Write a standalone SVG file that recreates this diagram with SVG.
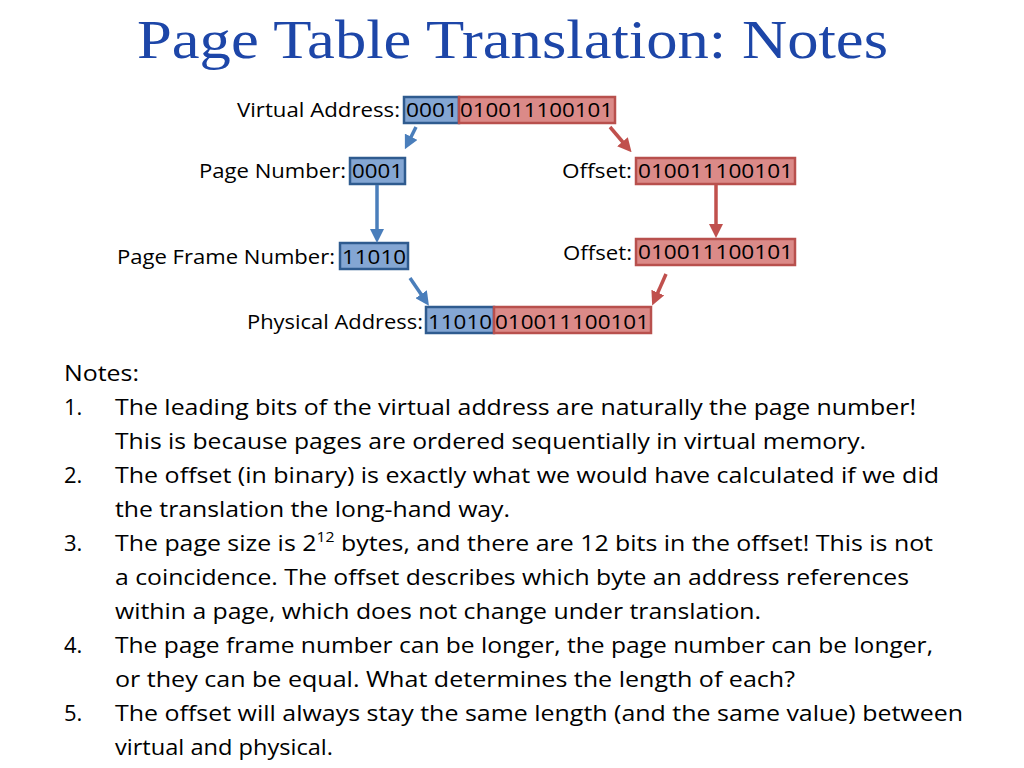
<svg xmlns="http://www.w3.org/2000/svg" width="1024" height="768" viewBox="0 0 1024 768">
<style>
.title{font-family:"Liberation Serif","DejaVu Serif",serif;font-size:54px;fill:#1d46a8}
.lbl{font-family:"Open Sans","Noto Sans",sans-serif;font-size:20px;fill:#000}
.note{font-family:"Open Sans","Noto Sans",sans-serif;font-size:22px;fill:#000}
.bb{fill:#84a6d3;stroke:#2f5b8f;stroke-width:2.5}
.rb{fill:#db8a88;stroke:#b8504d;stroke-width:2.5}
.ba{stroke:#4a7ebb;stroke-width:3.5;fill:none}
.ra{stroke:#c0504d;stroke-width:3.5;fill:none}
</style>
<defs>
<marker id="ahb" markerWidth="4" markerHeight="4" refX="2" refY="2" orient="auto" markerUnits="strokeWidth"><path d="M0,0 L4,2 L0,4 z" fill="#4a7ebb"/></marker>
<marker id="ahr" markerWidth="4" markerHeight="4" refX="2" refY="2" orient="auto" markerUnits="strokeWidth"><path d="M0,0 L4,2 L0,4 z" fill="#c0504d"/></marker>
</defs>
<rect width="1024" height="768" fill="#fff"/>
<text class="title" x="137" y="58" textLength="751" lengthAdjust="spacingAndGlyphs">Page Table Translation: Notes</text>

<g id="virtual">
<text class="lbl" x="237" y="117" textLength="163" lengthAdjust="spacingAndGlyphs">Virtual Address:</text>
<rect class="bb" x="404" y="97" width="55" height="26"/>
<rect class="rb" x="459" y="97" width="156" height="26"/>
<text class="lbl" x="406" y="117" textLength="52" lengthAdjust="spacingAndGlyphs">0001</text>
<text class="lbl" x="460" y="117" textLength="153" lengthAdjust="spacingAndGlyphs">010011100101</text>
</g>
<g id="pagenum">
<text class="lbl" x="199" y="178" textLength="147" lengthAdjust="spacingAndGlyphs">Page Number:</text>
<rect class="bb" x="350" y="158" width="55" height="26"/>
<text class="lbl" x="352" y="178" textLength="51" lengthAdjust="spacingAndGlyphs">0001</text>
</g>
<g id="offset1">
<text class="lbl" x="562" y="178" textLength="70" lengthAdjust="spacingAndGlyphs">Offset:</text>
<rect class="rb" x="636" y="158" width="159" height="26"/>
<text class="lbl" x="638" y="178" textLength="155" lengthAdjust="spacingAndGlyphs">010011100101</text>
</g>
<g id="pfn">
<text class="lbl" x="117" y="264" textLength="218" lengthAdjust="spacingAndGlyphs">Page Frame Number:</text>
<rect class="bb" x="340" y="243" width="68" height="26"/>
<text class="lbl" x="342" y="264" textLength="64" lengthAdjust="spacingAndGlyphs">11010</text>
</g>
<g id="offset2">
<text class="lbl" x="563" y="260" textLength="69" lengthAdjust="spacingAndGlyphs">Offset:</text>
<rect class="rb" x="636" y="239" width="159" height="26"/>
<text class="lbl" x="638" y="259" textLength="155" lengthAdjust="spacingAndGlyphs">010011100101</text>
</g>
<g id="physical">
<text class="lbl" x="247" y="329" textLength="176" lengthAdjust="spacingAndGlyphs">Physical Address:</text>
<rect class="bb" x="426" y="307" width="68" height="26"/>
<rect class="rb" x="494" y="307" width="157" height="26"/>
<text class="lbl" x="428" y="329" textLength="64" lengthAdjust="spacingAndGlyphs">11010</text>
<text class="lbl" x="495" y="329" textLength="154" lengthAdjust="spacingAndGlyphs">010011100101</text>
</g>

<g id="connectors">
<line class="ba" x1="416" y1="127" x2="408" y2="143" marker-end="url(#ahb)"/>
<line class="ra" x1="610" y1="127" x2="627" y2="147" marker-end="url(#ahr)"/>
<line class="ba" x1="377" y1="185" x2="377" y2="236" marker-end="url(#ahb)"/>
<line class="ra" x1="716" y1="185" x2="716" y2="231" marker-end="url(#ahr)"/>
<line class="ba" x1="410" y1="278" x2="425" y2="300" marker-end="url(#ahb)"/>
<line class="ra" x1="666" y1="274" x2="655" y2="299" marker-end="url(#ahr)"/>
</g>

<g id="notes">
<text class="note" x="64" y="381" textLength="75" lengthAdjust="spacingAndGlyphs">Notes:</text>
<text class="note" x="64" y="415">1.</text>
<text class="note" x="115" y="415" textLength="801" lengthAdjust="spacingAndGlyphs">The leading bits of the virtual address are naturally the page number!</text>
<text class="note" x="115" y="449" textLength="751" lengthAdjust="spacingAndGlyphs">This is because pages are ordered sequentially in virtual memory.</text>
<text class="note" x="64" y="483">2.</text>
<text class="note" x="115" y="483" textLength="824" lengthAdjust="spacingAndGlyphs">The offset (in binary) is exactly what we would have calculated if we did</text>
<text class="note" x="115" y="517" textLength="395" lengthAdjust="spacingAndGlyphs">the translation the long-hand way.</text>
<text class="note" x="64" y="551">3.</text>
<text class="note" x="115" y="551" textLength="818" lengthAdjust="spacingAndGlyphs">The page size is 2<tspan font-size="14" dy="-9">12</tspan><tspan dy="9"> bytes, and there are 12 bits in the offset! This is not</tspan></text>
<text class="note" x="115" y="585" textLength="794" lengthAdjust="spacingAndGlyphs">a coincidence. The offset describes which byte an address references</text>
<text class="note" x="115" y="619" textLength="646" lengthAdjust="spacingAndGlyphs">within a page, which does not change under translation.</text>
<text class="note" x="64" y="653">4.</text>
<text class="note" x="115" y="653" textLength="818" lengthAdjust="spacingAndGlyphs">The page frame number can be longer, the page number can be longer,</text>
<text class="note" x="115" y="687" textLength="680" lengthAdjust="spacingAndGlyphs">or they can be equal. What determines the length of each?</text>
<text class="note" x="64" y="721">5.</text>
<text class="note" x="115" y="721" textLength="848" lengthAdjust="spacingAndGlyphs">The offset will always stay the same length (and the same value) between</text>
<text class="note" x="115" y="755" textLength="218" lengthAdjust="spacingAndGlyphs">virtual and physical.</text>
</g>
</svg>
